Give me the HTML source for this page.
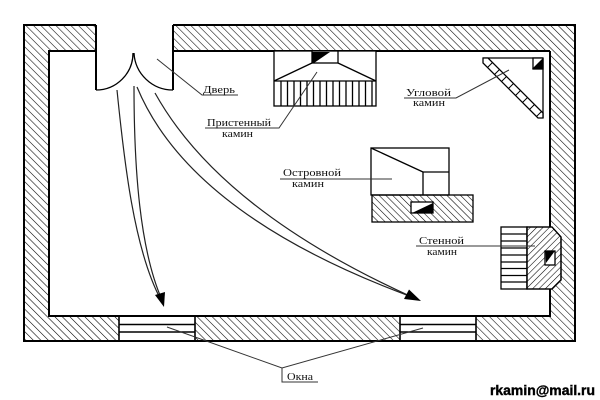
<!DOCTYPE html>
<html><head><meta charset="utf-8"><style>
html,body{margin:0;padding:0;background:#fff;}
svg{display:block;}
text{font-family:"Liberation Serif",serif;fill:#111;}
</style></head><body>
<svg width="600" height="400" viewBox="0 0 600 400" xmlns="http://www.w3.org/2000/svg">
<defs>
<pattern id="hw" patternUnits="userSpaceOnUse" width="5.3" height="10" patternTransform="rotate(-45)">
<line x1="0" y1="0" x2="0" y2="10" stroke="#000" stroke-width="1.1"/>
</pattern>
<pattern id="hf" patternUnits="userSpaceOnUse" width="4.8" height="10" patternTransform="rotate(-45)">
<line x1="0" y1="0" x2="0" y2="10" stroke="#000" stroke-width="1.1"/>
</pattern>
<pattern id="hs" patternUnits="userSpaceOnUse" width="4.5" height="10" patternTransform="rotate(45)">
<line x1="0" y1="0" x2="0" y2="10" stroke="#000" stroke-width="1.1"/>
</pattern>
</defs>

<!-- Walls hatched fill -->
<path fill="url(#hw)" fill-rule="evenodd" d="M24,25 L96,25 L96,51 L173,51 L173,25 L575,25 L575,341 L24,341 Z M49,51 L49,316 L550,316 L550,51 Z"/>
<!-- window openings white -->
<rect x="119" y="316" width="76" height="25" fill="#fff"/>
<rect x="400" y="316" width="76" height="25" fill="#fff"/>
<rect x="97" y="24" width="75" height="28" fill="#fff"/>

<!-- Wall outlines -->
<g stroke="#000" stroke-width="2" fill="none">
<path d="M96,25 L24,25 L24,341 L575,341 L575,25 L173,25"/>
<path d="M96,51 L49,51 L49,316 L550,316 L550,289"/>
<path d="M550,51 L550,228"/>
<path d="M550,51 L173,51"/>
<path d="M96,25 L96,90"/>
<path d="M173,25 L173,90"/>
</g>
<!-- Windows -->
<g stroke="#000" stroke-width="1.6" fill="none">
<line x1="119" y1="316" x2="119" y2="341"/>
<line x1="195" y1="316" x2="195" y2="341"/>
<line x1="119" y1="324.5" x2="195" y2="324.5"/>
<line x1="119" y1="332" x2="195" y2="332"/>
<line x1="400" y1="316" x2="400" y2="341"/>
<line x1="476" y1="316" x2="476" y2="341"/>
<line x1="400" y1="324.5" x2="476" y2="324.5"/>
<line x1="400" y1="332" x2="476" y2="332"/>
</g>

<!-- Door leaves -->
<g stroke="#000" stroke-width="1.3" fill="none">
<path d="M96,90 A37,37 0 0 0 133,53"/>
<path d="M173,90 A39,39 0 0 1 134,53"/>
</g>

<!-- Movement arrows -->
<g stroke="#222" stroke-width="1.2" fill="none">
<path d="M117,90 C124,160 134,250 161,300"/>
<path d="M134,86 C134,170 140,250 162,300"/>
<path d="M137,87 Q190,215 412,297"/>
<path d="M155,93 Q220,210 412,297"/>
</g>
<polygon points="164,307 165,292 155,295" fill="#000"/>
<polygon points="421,301 409,289.5 404,299" fill="#000"/>

<!-- Pristenny kamin -->
<g stroke="#000" stroke-width="1.3" fill="none">
<rect x="274" y="51" width="102" height="55" fill="#fff"/>
<rect x="312" y="51" width="26" height="12" fill="#fff"/>
<line x1="312" y1="63" x2="274" y2="81"/>
<line x1="338" y1="63" x2="376" y2="81"/>
<line x1="274" y1="81" x2="376" y2="81"/>
<path d="M281,81V106M287.5,81V106M294,81V106M300.5,81V106M307,81V106M313.5,81V106M320,81V106M326.5,81V106M333,81V106M339.5,81V106M346,81V106M352.5,81V106M359,81V106M365.5,81V106M372,81V106"/>
</g>
<polygon points="312,52 330,52 314,63 312,63" fill="#000"/>

<!-- Uglovoy kamin -->
<g stroke="#000" stroke-width="1.3" fill="none">
<line x1="483" y1="58" x2="543" y2="58"/>
<line x1="543" y1="58" x2="543" y2="118"/>
<polygon points="483,58 488,58 543,113 543,118 538,118 483,63" fill="#fff"/>
<path d="M487.5,67.5L492.5,62.5M494.5,74.5L499.5,69.5M501.5,81.5L506.5,76.5M508.5,88.5L513.5,83.5M515.5,95.5L520.5,90.5M522.5,102.5L527.5,97.5M529.5,109.5L534.5,104.5M536.5,116.5L541.5,111.5" stroke-width="1"/>
<rect x="533" y="58" width="10" height="11" fill="#fff"/>
</g>
<polygon points="543,58 543,69 532,69" fill="#000"/>

<!-- Ostrovnoy kamin -->
<g stroke="#000" stroke-width="1.3" fill="none">
<rect x="371" y="148" width="78" height="47" fill="#fff"/>
<line x1="371" y1="148" x2="423" y2="172"/>
<line x1="423" y1="172" x2="449" y2="172"/>
<line x1="423" y1="172" x2="423" y2="195"/>
<rect x="372" y="195" width="101" height="27" fill="url(#hf)"/>
<rect x="411" y="202" width="22" height="11" fill="#fff"/>
</g>
<polygon points="412,213 433,203 433,213" fill="#000"/>

<!-- Stennoy kamin -->
<g stroke="#000" stroke-width="1.3">
<rect x="501" y="227" width="26" height="62" fill="#fff"/>
<path d="M501,234H527M501,241H527M501,248H527M501,255H527M501,262H527M501,268.5H527M501,275.5H527M501,282H527" fill="none"/>
<path d="M527,227 L552,227 L561,237 L561,280 L552,289 L527,289 Z" fill="#fff"/>
<path d="M527,227 L552,227 L561,237 L561,280 L552,289 L527,289 Z" fill="url(#hs)"/>
<rect x="545" y="251" width="10" height="14" fill="#fff"/>
</g>
<polygon points="545.5,251.5 554.5,251.5 546,263" fill="#000"/>

<!-- Leader lines -->
<g stroke="#333" stroke-width="1" fill="none">
<path d="M157,59 L202,95 L238,95"/>
<path d="M317,72 L279,128 L205,128"/>
<path d="M509,70 L456,98 L404,98"/>
<path d="M280,179 L392,179"/>
<path d="M416,246 L535,246"/>
<path d="M167,327 L282,368 L423,328"/>
<path d="M282,368 L282,382 L318,382"/>
</g>

<!-- Labels -->
<g font-size="11">
<text x="203" y="93" textLength="32" lengthAdjust="spacingAndGlyphs">Дверь</text>
<text x="207" y="126" textLength="64" lengthAdjust="spacingAndGlyphs">Пристенный</text>
<text x="222" y="137" textLength="31" lengthAdjust="spacingAndGlyphs">камин</text>
<text x="406" y="96" textLength="45" lengthAdjust="spacingAndGlyphs">Угловой</text>
<text x="413" y="106" textLength="32" lengthAdjust="spacingAndGlyphs">камин</text>
<text x="283" y="176" textLength="58" lengthAdjust="spacingAndGlyphs">Островной</text>
<text x="292" y="187" textLength="32" lengthAdjust="spacingAndGlyphs">камин</text>
<text x="419" y="244" textLength="45" lengthAdjust="spacingAndGlyphs">Стенной</text>
<text x="427" y="255" textLength="30" lengthAdjust="spacingAndGlyphs">камин</text>
<text x="287" y="380" textLength="26" lengthAdjust="spacingAndGlyphs">Окна</text>
</g>
<text x="490" y="395" font-size="14" font-weight="bold" textLength="105" lengthAdjust="spacingAndGlyphs" style="font-family:'Liberation Sans',sans-serif;fill:#000;stroke:#000;stroke-width:0.4">rkamin@mail.ru</text>
</svg>
</body></html>
